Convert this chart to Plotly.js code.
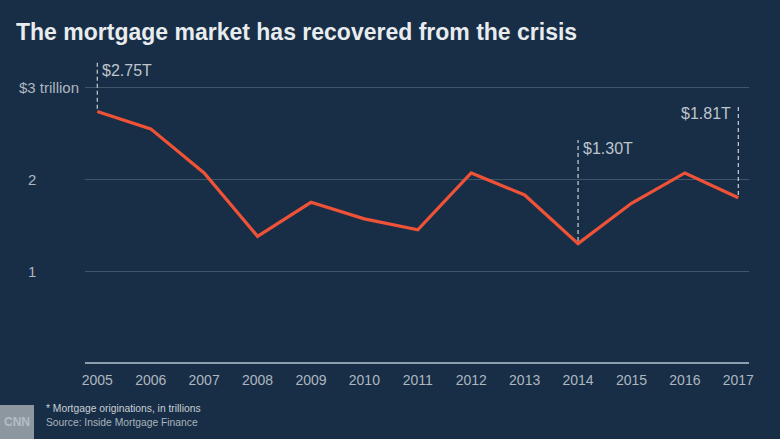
<!DOCTYPE html>
<html>
<head>
<meta charset="utf-8">
<script src="https://cdn.plot.ly/plotly-3.0.1.min.js"></script>
<style>
html,body{margin:0;padding:0;background:#172e46;}
#chart{width:780px;height:439px;}
</style>
</head>
<body>
<div id="chart"></div>
<script>
const years = [2005,2006,2007,2008,2009,2010,2011,2012,2013,2014,2015,2016,2017];
const originations = [2.74,2.55,2.07,1.38,1.75,1.57,1.45,2.07,1.83,1.30,1.74,2.07,1.80];
const yTickVals = [1,2,3];
const yTickText = ['1','2','$3 trillion'];
const callouts = [
  {year:2005, value:2.74, label:'$2.75T', top:3.28, side:'right'},
  {year:2014, value:1.30, label:'$1.30T', top:2.43, side:'right'},
  {year:2017, value:1.80, label:'$1.81T', top:2.81, side:'left'}
];
const titleText = 'The mortgage market has recovered from the crisis';
const noteText = '* Mortgage originations, in trillions';
const sourceText = 'Source: Inside Mortgage Finance';

const bg = '#172e46';
const labelColor = '#aeb7c0';
const font = 'Liberation Sans Narrow, Arial Narrow, Liberation Sans, sans-serif';

const shapes = [];
const annotations = [];
callouts.forEach(c => {
  shapes.push({type:'line', xref:'x', yref:'y', x0:c.year, x1:c.year, y0:c.value+0.03, y1:c.top,
    line:{color:'#c9cfd5', width:1.2, dash:'4px,3px'}});
  annotations.push({xref:'x', yref:'y', x:c.year, y:c.top, text:c.label, showarrow:false,
    xanchor:c.side==='right'?'left':'right', yanchor:'top', xshift:c.side==='right'?3:-5, yshift:2,
    font:{family:'Liberation Sans, Arial, sans-serif', size:16, color:'#bec5cc'}});
});
// y tick labels
yTickVals.forEach((v,i) => {
  annotations.push({xref:'paper', yref:'y', x:v===3?-0.006:-0.0798, y:v, text:yTickText[i], showarrow:false,
    xanchor:v===3?'right':'center', yanchor:'middle',
    font:{family:'Liberation Sans, Arial, sans-serif', size:15, color:labelColor}});
});
// footer
annotations.push({xref:'paper', yref:'paper', x:-41/664, y:-0.150, xanchor:'left', yanchor:'middle',
  text:noteText, showarrow:false, font:{family:'Liberation Sans, Arial, sans-serif', size:10.3, color:'#c9cfd5'}});
annotations.push({xref:'paper', yref:'paper', x:-41/664, y:-0.196, xanchor:'left', yanchor:'middle',
  text:sourceText, showarrow:false, font:{family:'Liberation Sans, Arial, sans-serif', size:10.3, color:'#aab3bc'}});

const data = [{
  x: years, y: originations, type:'scatter', mode:'lines',
  line:{color:'#ef5236', width:3.2}, hoverinfo:'skip'
}];

const layout = {
  width:780, height:439,
  paper_bgcolor:bg, plot_bgcolor:bg,
  margin:{l:85, r:31, t:60, b:76},
  showlegend:false,
  title:{text:titleText, x:16/780, xanchor:'left', y:1-32/439, yanchor:'middle',
    font:{family:'Liberation Sans, Arial, sans-serif', size:23, color:'#e9ecef', weight:'bold'}},
  xaxis:{range:[2004.77,2017.2], tickvals:years, ticktext:years.map(String),
    showgrid:false, zeroline:false, showline:false, ticks:'', ticklabelstandoff:7,
    tickfont:{family:font, size:14, color:labelColor}, fixedrange:true},
  yaxis:{range:[0,3.3], tickvals:[1,2,3], showticklabels:false, showgrid:true,
    gridcolor:'#3f5569', gridwidth:1, zeroline:true, zerolinecolor:'#8d9eae', zerolinewidth:1.5,
    showline:false, ticks:'', fixedrange:true},
  shapes: shapes.concat([
    {type:'rect', xref:'paper', yref:'paper', x0:-85/664, x1:-51/664, y0:-76/303, y1:-42/303,
      fillcolor:'#8d979f', line:{width:0}}
  ]),
  annotations: annotations.concat([
    {xref:'paper', yref:'paper', x:-68/664, y:-59/303, text:'CNN', showarrow:false, xanchor:'center', yanchor:'middle',
      font:{family:'Liberation Sans, Arial, sans-serif', size:12, color:'#b5bdc4', weight:'bold'}}
  ])
};

Plotly.newPlot('chart', data, layout, {displayModeBar:false, staticPlot:true});
</script>
</body>
</html>
